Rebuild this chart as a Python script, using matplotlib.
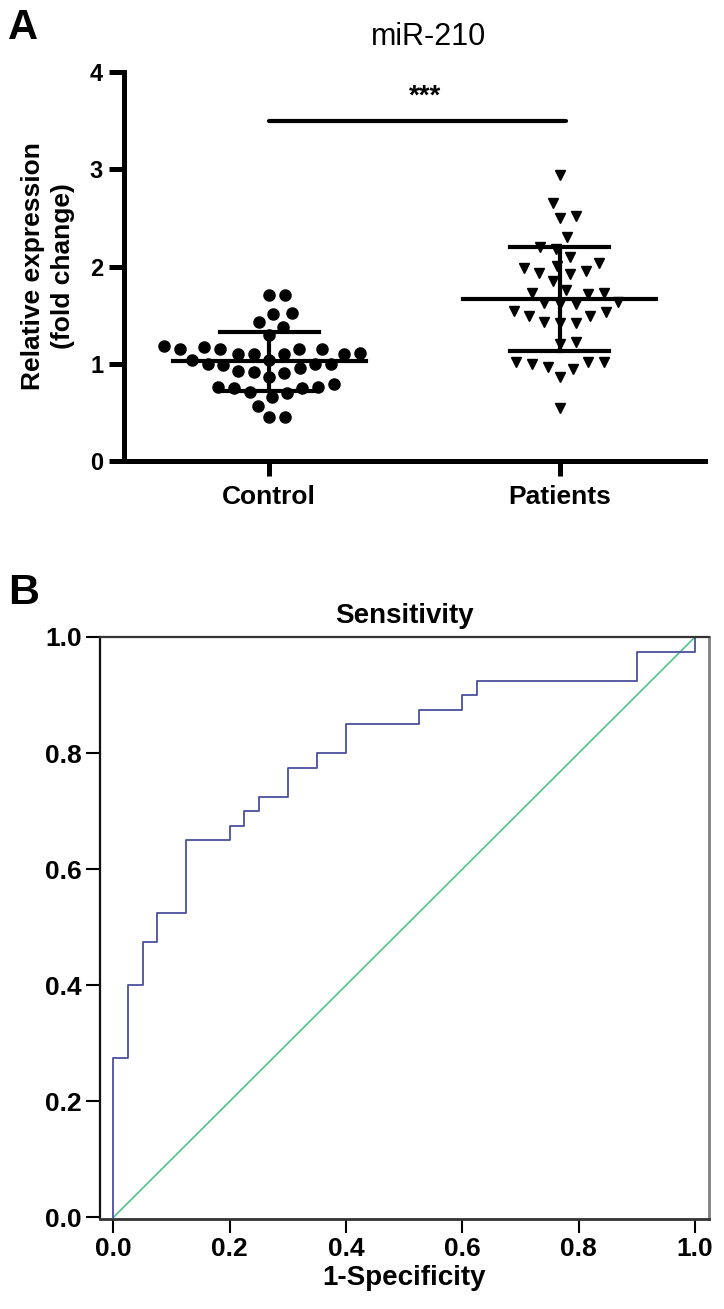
import matplotlib
matplotlib.use("Agg")
import matplotlib.pyplot as plt
import numpy as np

plt.rcParams['font.family'] = ['Liberation Sans', 'DejaVu Sans']

# panel A data (relative expression, fold change)
groups = ['Control', 'Patients']
control = [1.71, 1.71, 1.52, 1.51, 1.43, 1.38, 1.30, 1.17, 1.18, 1.15,
           1.15, 1.15, 1.15, 1.10, 1.10, 1.10, 1.10, 1.11, 1.04, 1.04,
           1.00, 1.00, 0.99, 1.00, 0.96, 0.92, 0.91, 0.93, 0.86, 0.79,
           0.76, 0.76, 0.75, 0.70, 0.66, 0.71, 0.75, 0.57, 0.45, 0.45]
patients = [2.94, 2.65, 2.50, 2.52, 2.30, 2.18, 2.20, 2.10, 2.04, 2.01,
            1.95, 1.92, 1.93, 1.98, 1.85, 1.73, 1.72, 1.73, 1.76, 1.62,
            1.61, 1.61, 1.64, 1.53, 1.49, 1.49, 1.54, 1.42, 1.42, 1.43,
            1.20, 1.22, 1.02, 1.00, 0.95, 0.86, 0.97, 1.02, 1.02, 0.54]
yticks_a = [0, 1, 2, 3, 4]

# panel B data (ROC steps)
fpr = [0, 0, 0.025, 0.05, 0.075, 0.125, 0.2, 0.225, 0.25, 0.3, 0.35,
       0.4, 0.525, 0.6, 0.625, 0.9, 1.0]
tpr = [0, 0.275, 0.40, 0.475, 0.525, 0.65, 0.675, 0.70, 0.725, 0.775,
       0.80, 0.85, 0.875, 0.90, 0.925, 0.975, 1.0]
ticks_b = [0.0, 0.2, 0.4, 0.6, 0.8, 1.0]

W, H = 724, 1309
fig = plt.figure(figsize=(W / 100, H / 100), dpi=100)


def swarm(ax, values, center, dist_px):
    # simple beeswarm: smallest horizontal shift with no overlap (pixel space)
    vals = np.asarray(values, dtype=float)
    ys = ax.transData.transform(np.column_stack([np.full(len(vals), center), vals]))[:, 1]
    order = np.argsort(vals)
    placed = []
    offs = np.zeros(len(vals))
    for i in order:
        bad = []
        for px, py in placed:
            dy = ys[i] - py
            if abs(dy) < dist_px:
                w = np.sqrt(dist_px ** 2 - dy ** 2)
                bad.append((px - w, px + w))
        cands = [0.0] + [b for iv in bad for b in iv]
        cands = sorted(cands, key=lambda c: (abs(c), -c))
        for c in cands:
            if all(not (lo + 1e-6 < c < hi - 1e-6) for lo, hi in bad):
                break
        placed.append((c, ys[i]))
        offs[i] = c
    ppu = ax.bbox.width / (ax.get_xlim()[1] - ax.get_xlim()[0])
    return center + offs / ppu


# ---------- panel A ----------
axA = fig.add_axes([124 / W, 1 - 461 / H, 581 / W, 389 / H])
axA.set_xlim(-0.5, 1.5)
axA.set_ylim(0, 4)
for s in ['top', 'right']:
    axA.spines[s].set_visible(False)
for s in ['left', 'bottom']:
    axA.spines[s].set_linewidth(3.6)
axA.tick_params(axis='both', length=11, width=3.6, direction='out')
axA.tick_params(axis='y', labelsize=17, pad=4)
axA.tick_params(axis='x', labelsize=19, pad=6)
axA.set_xticks([0, 1])
axA.set_xticklabels(groups, fontweight='bold')
axA.set_yticks(yticks_a)
axA.set_yticklabels([str(t) for t in yticks_a], fontweight='bold')

xc = swarm(axA, control, 0, 16)
xp = swarm(axA, patients, 1, 16)
axA.plot(xc, control, 'o', color='black', ms=8, mec='black', clip_on=False, zorder=3)
axA.plot(xp, patients, 'v', color='black', ms=7.5, mec='black', clip_on=False, zorder=3)

for pos, vals in zip([0, 1], [control, patients]):
    m = np.mean(vals)
    sd = np.std(vals, ddof=1)
    axA.plot([pos - 0.333, pos + 0.333], [m, m], color='black', lw=3, zorder=4)
    axA.plot([pos - 0.17, pos + 0.17], [m + sd, m + sd], color='black', lw=3, zorder=4)
    axA.plot([pos - 0.17, pos + 0.17], [m - sd, m - sd], color='black', lw=3, zorder=4)
    axA.plot([pos, pos], [m - sd, m + sd], color='black', lw=3, zorder=4)

axA.plot([0, 1.02], [3.5, 3.5], color='black', lw=3, solid_capstyle='round')
axA.text(0.535, 3.67, '***', ha='center', va='baseline', fontsize=20, fontweight='bold')

fig.text(429 / W, 1 - 45 / H, 'miR-210', ha='center', va='baseline', fontsize=22)
fig.text(48 / W, 1 - 266 / H, 'Relative expression\n(fold change)', rotation=90,
         ha='center', va='center', multialignment='center', fontsize=19,
         fontweight='bold', linespacing=1.3)
fig.text(8 / W, 1 - 8 / H, 'A', ha='left', va='top', fontsize=30, fontweight='bold')

# ---------- panel B ----------
axB = fig.add_axes([100 / W, 1 - 1219 / H, 609 / W, 582 / H])
axB.set_xlim(-0.0232, 1.024)
axB.set_ylim(-0.003, 1.0)
axB.spines['left'].set_linewidth(1.6)
axB.spines['left'].set_color('#111111')
axB.spines['bottom'].set_linewidth(2)
axB.spines['bottom'].set_color('#333333')
axB.spines['top'].set_linewidth(1.6)
axB.spines['top'].set_color('#333333')
axB.spines['right'].set_linewidth(2)
axB.spines['right'].set_color('#808080')
axB.tick_params(axis='both', length=10, width=1.5, direction='out', labelsize=19)
axB.tick_params(axis='y', pad=3)
axB.tick_params(axis='x', pad=3)
axB.set_xticks(ticks_b)
axB.set_xticklabels([f'{t:.1f}' for t in ticks_b], fontweight='bold')
axB.set_yticks(ticks_b)
axB.set_yticklabels([f'{t:.1f}' for t in ticks_b], fontweight='bold')

axB.plot([0, 1], [0, 1], color='#4fc48c', lw=1.2)
axB.step(fpr, tpr, where='post', color='#4b4f9e', lw=1.3)

axB.set_title('Sensitivity', fontsize=20, fontweight='bold', pad=10)
axB.set_xlabel('1-Specificity', fontsize=20, fontweight='bold', labelpad=3)
fig.text(8 / W, 1 - 573 / H, 'B', ha='left', va='top', fontsize=31, fontweight='bold')

fig.savefig('out.png', dpi=100)
